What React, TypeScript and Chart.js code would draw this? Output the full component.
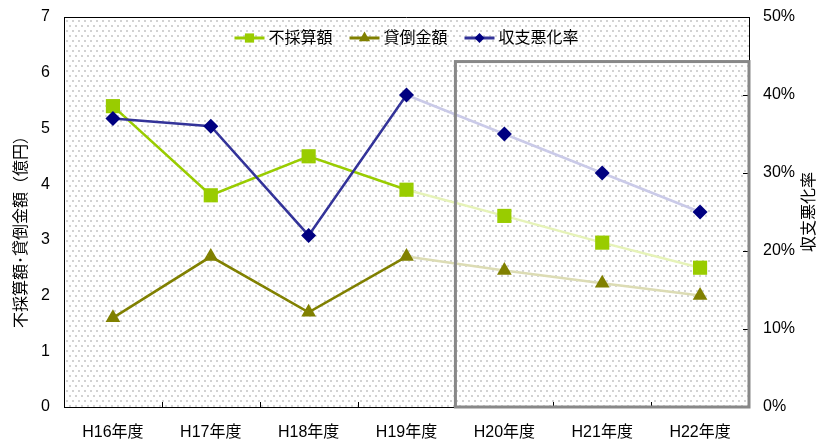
import React, { useEffect, useRef } from 'react';
import { Chart, registerables } from 'chart.js';

Chart.register(...registerables);

const categories = ['H16年度', 'H17年度', 'H18年度', 'H19年度', 'H20年度', 'H21年度', 'H22年度'];
const unprofitableAmount = [5.4, 3.8, 4.5, 3.9, 3.43, 2.95, 2.5];
const badDebtAmount = [1.6, 2.7, 1.7, 2.7, 2.45, 2.22, 2.0];
const deteriorationRate = [37, 36, 22, 40, 35, 30, 25];
const seriesNames = ['不採算額', '貸倒金額', '収支悪化率'];
const leftAxisTitle = '不採算額･貸倒金額（億円）';
const rightAxisTitle = '収支悪化率';
const leftMax = 7;
const leftStep = 1;
const rightMax = 50;
const rightStep = 10;
const actualCount = 4; // H16–H19 actual; later years projected
const highlightTop = 6.2; // top of projection box, on left axis

const FONT = "'Liberation Sans', 'Noto Sans CJK JP', Arial, sans-serif";

const styles = [
  { solid: '#99cc00', faded: '#e6f3b8', marker: '#99cc00', shape: 'rect', radius: 10 },
  { solid: '#808000', faded: '#dcdcb4', marker: '#808000', shape: 'triangle', radius: 8.5 },
  { solid: '#333399', faded: '#cacae8', marker: '#000080', shape: 'rectRot', radius: 7.5 },
];

function makePattern(): CanvasPattern | string {
  const c = document.createElement('canvas');
  c.width = 6;
  c.height = 10;
  const g = c.getContext('2d');
  if (!g) return '#f4f4f4';
  g.fillStyle = '#ffffff';
  g.fillRect(0, 0, 6, 10);
  g.fillStyle = '#d2d2d2';
  g.fillRect(0, 0, 2, 2);
  g.fillRect(3, 5, 2, 2);
  const p = g.createPattern(c, 'repeat');
  return p || '#f4f4f4';
}

function drawMarker(ctx: CanvasRenderingContext2D, shape: string, x: number, y: number, r: number, color: string) {
  ctx.save();
  ctx.fillStyle = color;
  ctx.beginPath();
  if (shape === 'rect') {
    const s = r * Math.SQRT1_2;
    ctx.rect(x - s, y - s, 2 * s, 2 * s);
  } else if (shape === 'triangle') {
    const w = r * Math.sqrt(3) / 2;
    ctx.moveTo(x, y - r);
    ctx.lineTo(x + w, y + r / 2);
    ctx.lineTo(x - w, y + r / 2);
    ctx.closePath();
  } else {
    ctx.moveTo(x, y - r);
    ctx.lineTo(x + r, y);
    ctx.lineTo(x, y + r);
    ctx.lineTo(x - r, y);
    ctx.closePath();
  }
  ctx.fill();
  ctx.restore();
}

function fixVertical(width: number) {
  return (s: any) => {
    s.width = width;
    s.paddingTop = 0;
    s.paddingBottom = 0;
  };
}

export default function App() {
  const ref = useRef<HTMLCanvasElement | null>(null);

  useEffect(() => {
    const canvas = ref.current;
    if (!canvas) return;
    const pattern = makePattern();

    const decorPlugin = {
      id: 'decor',
      beforeDraw(chart: any) {
        const { ctx, chartArea: a } = chart;
        ctx.save();
        ctx.fillStyle = '#ffffff';
        ctx.fillRect(0, 0, chart.width, chart.height);
        ctx.fillStyle = pattern;
        ctx.fillRect(a.left, a.top, a.right - a.left, a.bottom - a.top);
        ctx.restore();
      },
      beforeDatasetsDraw(chart: any) {
        const { ctx, chartArea: a, scales } = chart;
        ctx.save();
        ctx.strokeStyle = '#000';
        ctx.lineWidth = 1;
        // top frame
        ctx.beginPath();
        ctx.moveTo(a.left, a.top + 0.5);
        ctx.lineTo(a.right, a.top + 0.5);
        ctx.stroke();
        // x inward ticks at category boundaries
        const xs = scales.x;
        for (let i = 0; i < categories.length - 1; i++) {
          const bx = Math.round((xs.getPixelForValue(i) + xs.getPixelForValue(i + 1)) / 2) + 0.5;
          ctx.beginPath();
          ctx.moveTo(bx, a.bottom);
          ctx.lineTo(bx, a.bottom - 5);
          ctx.stroke();
        }
        // right axis inward ticks
        const y1 = scales.y1;
        for (let v = rightStep; v < rightMax; v += rightStep) {
          const py = Math.round(y1.getPixelForValue(v)) + 0.5;
          ctx.beginPath();
          ctx.moveTo(a.right - 6, py);
          ctx.lineTo(a.right, py);
          ctx.stroke();
        }
        ctx.restore();
      },
      afterDatasetsDraw(chart: any) {
        const { ctx, chartArea: a, scales } = chart;
        const xs = scales.x;
        const left = (xs.getPixelForValue(actualCount - 1) + xs.getPixelForValue(actualCount)) / 2;
        const top = scales.y.getPixelForValue(highlightTop);
        ctx.save();
        ctx.strokeStyle = '#888888';
        ctx.lineWidth = 3;
        ctx.strokeRect(left, top, a.right - left, a.bottom - top);
        ctx.restore();
      },
      afterDraw(chart: any) {
        const { ctx, chartArea: a } = chart;
        ctx.save();
        // legend
        ctx.font = `16px ${FONT}`;
        ctx.textBaseline = 'middle';
        ctx.textAlign = 'left';
        const lineW = 30;
        const gapText = 4;
        const gapItem = 17;
        const widths = seriesNames.map((n) => lineW + gapText + ctx.measureText(n).width);
        const total = widths.reduce((s, w) => s + w, 0) + gapItem * (seriesNames.length - 1);
        let x = (a.left + a.right) / 2 - total / 2;
        const ly = a.top + 21;
        seriesNames.forEach((name, i) => {
          const st = styles[i];
          ctx.strokeStyle = st.solid;
          ctx.lineWidth = 3;
          ctx.beginPath();
          ctx.moveTo(x, ly);
          ctx.lineTo(x + lineW, ly);
          ctx.stroke();
          const r = st.shape === 'rect' ? 6.5 : st.shape === 'triangle' ? 6.5 : 5;
          drawMarker(ctx, st.shape, x + lineW / 2, ly, r, st.marker);
          ctx.fillStyle = '#000';
          ctx.fillText(name, x + lineW + gapText, ly + 1);
          x += widths[i] + gapItem;
        });
        ctx.fillStyle = '#000';
        ctx.textAlign = 'center';
        // left axis title (bottom-to-top)
        ctx.save();
        ctx.translate(22, 228);
        ctx.rotate(-Math.PI / 2);
        ctx.fillText(leftAxisTitle, 0, 0);
        ctx.restore();
        // right axis title (bottom-to-top)
        ctx.save();
        ctx.translate(810, (a.top + a.bottom) / 2);
        ctx.rotate(-Math.PI / 2);
        ctx.fillText(rightAxisTitle, 0, 0);
        ctx.restore();
        ctx.restore();
      },
    };

    const series = [unprofitableAmount, badDebtAmount, deteriorationRate];
    const datasets = series.map((data, i) => {
      const st = styles[i];
      return {
        label: seriesNames[i],
        data,
        yAxisID: i === 2 ? 'y1' : 'y',
        borderColor: st.solid,
        borderWidth: 2.5,
        backgroundColor: st.marker,
        pointStyle: st.shape,
        pointRadius: st.radius,
        pointBackgroundColor: st.marker,
        pointBorderColor: st.marker,
        pointBorderWidth: 0,
        fill: false,
        tension: 0,
        clip: false,
        order: 2 - i,
        segment: {
          borderColor: (c: any) => (c.p0DataIndex >= actualCount - 1 ? st.faded : st.solid),
        },
      };
    });

    const tickFont = { family: FONT, size: 16 };
    const chart = new Chart(canvas, {
      type: 'line',
      data: { labels: categories, datasets: datasets as any },
      options: {
        responsive: false,
        animation: false,
        layout: { autoPadding: false, padding: { top: 17, left: 0, right: 0, bottom: 0 } },
        plugins: { legend: { display: false }, tooltip: { enabled: false } },
        scales: {
          x: {
            offset: true,
            grid: { display: false, drawTicks: false },
            border: { display: true, color: '#000', width: 1 },
            ticks: { color: '#000', font: tickFont, padding: 16, maxRotation: 0, autoSkip: false },
            afterFit: (s: any) => { s.height = 34; s.paddingLeft = 0; s.paddingRight = 0; },
          },
          y: {
            position: 'left',
            min: 0,
            max: leftMax,
            grid: { display: false, drawTicks: false },
            border: { display: true, color: '#000', width: 1 },
            ticks: { stepSize: leftStep, color: '#000', font: tickFont, padding: 14 },
            afterFit: fixVertical(64),
          },
          y1: {
            position: 'right',
            min: 0,
            max: rightMax,
            grid: { display: false, drawTicks: false },
            border: { display: true, color: '#000', width: 1 },
            ticks: { stepSize: rightStep, color: '#000', font: tickFont, padding: 14, callback: (v: any) => `${v}%` },
            afterFit: fixVertical(71),
          },
        },
      },
      plugins: [decorPlugin],
    } as any);

    return () => chart.destroy();
  }, []);

  return (
    <div style={{ position: 'absolute', left: 0, top: 0, width: 820, height: 441 }}>
      <canvas ref={ref} width={820} height={441} style={{ display: 'block' }} />
    </div>
  );
}
